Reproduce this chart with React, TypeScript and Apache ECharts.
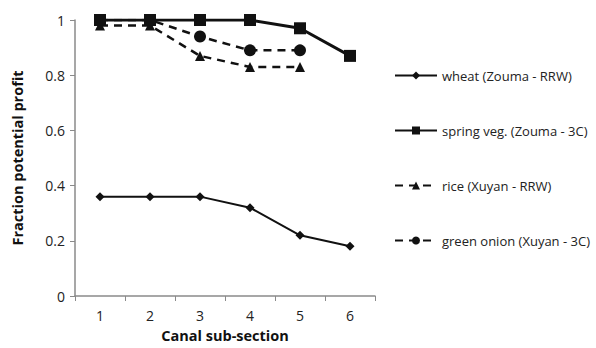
import React, { useEffect, useRef } from "react";
import * as echarts from "echarts";

const categories = ["1", "2", "3", "4", "5", "6"];
const wheat = [0.36, 0.36, 0.36, 0.32, 0.22, 0.18];
const springVeg = [1, 1, 1, 1, 0.97, 0.87];
const rice = [0.98, 0.98, 0.87, 0.83, 0.83];
const greenOnion = [1, 1, 0.94, 0.89, 0.89];
const seriesNames = [
  "wheat (Zouma - RRW)",
  "spring veg. (Zouma - 3C)",
  "rice (Xuyan - RRW)",
  "green onion (Xuyan - 3C)",
];

const FONT = "'Open Sans', 'Liberation Sans', sans-serif";

export default function App() {
  const ref = useRef<HTMLDivElement>(null);
  useEffect(() => {
    if (!ref.current) return;
    const chart = echarts.init(ref.current, undefined, { renderer: "svg" });
    const black = "#111";
    chart.setOption({
      animation: false,
      backgroundColor: "#fff",
      grid: { left: 75, right: 221, top: 20, bottom: 52 },
      legend: {
        orient: "vertical",
        left: 389,
        top: 64,
        itemGap: 42,
        itemWidth: 42,
        itemHeight: 10,
        textStyle: { fontFamily: FONT, fontSize: 13, color: "#222" },
        data: seriesNames,
      },
      xAxis: {
        type: "category",
        data: categories,
        boundaryGap: true,
        name: "Canal sub-section",
        nameLocation: "middle",
        nameGap: 32,
        nameTextStyle: { fontFamily: FONT, fontWeight: "bold", fontSize: 14.5, color: "#111" },
        axisLine: { lineStyle: { color: "#8a8a8a", width: 1.5 } },
        axisTick: { show: true, length: 5, lineStyle: { color: "#8a8a8a" } },
        axisLabel: { fontFamily: FONT, fontSize: 14, color: "#222", margin: 12 },
        splitLine: { show: false },
      },
      yAxis: {
        type: "value",
        min: 0,
        max: 1,
        interval: 0.2,
        name: "Fraction potential profit",
        nameLocation: "middle",
        nameGap: 50,
        nameTextStyle: { fontFamily: FONT, fontWeight: "bold", fontSize: 14.5, color: "#111" },
        axisLine: { show: true, lineStyle: { color: "#8a8a8a", width: 1.5 } },
        axisTick: { show: true, length: 5, lineStyle: { color: "#8a8a8a" } },
        axisLabel: { fontFamily: FONT, fontSize: 14, color: "#222", margin: 10 },
        splitLine: { show: false },
      },
      series: [
        {
          name: seriesNames[0],
          type: "line",
          data: wheat,
          symbol: "diamond",
          symbolSize: 9,
          lineStyle: { color: black, width: 2 },
          itemStyle: { color: black },
        },
        {
          name: seriesNames[1],
          type: "line",
          data: springVeg,
          symbol: "rect",
          symbolSize: 12,
          lineStyle: { color: black, width: 3 },
          itemStyle: { color: black },
        },
        {
          name: seriesNames[2],
          type: "line",
          data: rice,
          symbol: "triangle",
          symbolSize: 10,
          lineStyle: { color: black, width: 2.5, type: [8, 6] },
          itemStyle: { color: black },
        },
        {
          name: seriesNames[3],
          type: "line",
          data: greenOnion,
          symbol: "circle",
          symbolSize: 12,
          lineStyle: { color: black, width: 2.5, type: [8, 6] },
          itemStyle: { color: black },
        },
      ],
    });
    return () => chart.dispose();
  }, []);
  return <div ref={ref} style={{ width: 596, height: 348, position: "absolute", left: 0, top: 0 }} />;
}
